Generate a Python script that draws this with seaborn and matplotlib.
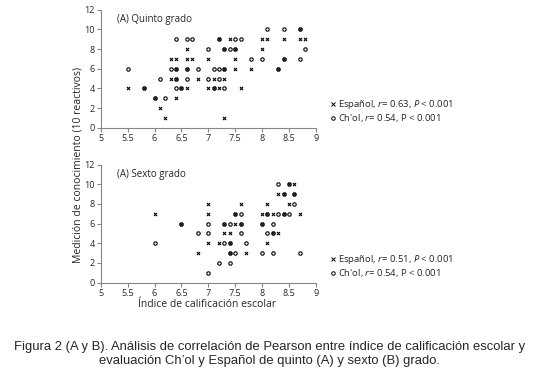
import numpy as np
import pandas as pd
import matplotlib
matplotlib.use("Agg")
import matplotlib.pyplot as plt
import seaborn as sns
from matplotlib.lines import Line2D

# Quinto grado
q_esp_x = [8.7, 7.2, 7.4, 8.0, 8.1, 8.4, 8.7, 8.8, 6.6, 7.3, 7.5, 8.0, 6.3, 6.4, 6.6, 6.7, 7.0, 7.5, 8.4,
           6.4, 6.6, 7.3, 7.5, 7.8, 8.3, 6.3, 6.4, 6.8, 7.1, 7.3, 5.5, 5.8, 6.5, 6.6, 7.0, 7.1, 7.2, 7.6,
           6.0, 6.4, 6.1, 6.2, 7.3]
q_esp_y = [10, 9, 9, 9, 9, 9, 9, 9, 8, 8, 8, 8, 7, 7, 7, 7, 7, 7, 7,
           6, 6, 6, 6, 6, 6, 5, 5, 5, 5, 5, 4, 4, 4, 4, 4, 4, 4, 4,
           3, 3, 2, 1, 1]
q_chol_x = [8.1, 8.4, 8.7, 6.4, 6.6, 6.7, 7.2, 7.5, 7.6, 7.0, 7.3, 7.4, 7.5, 8.8, 7.8, 8.0, 8.4, 8.7,
            5.5, 6.3, 6.4, 6.6, 6.8, 7.1, 7.2, 7.3, 8.3, 6.1, 6.4, 6.6, 7.0, 7.2,
            5.8, 6.4, 6.5, 7.1, 7.3, 6.0, 6.2]
q_chol_y = [10, 10, 10, 9, 9, 9, 9, 9, 9, 8, 8, 8, 8, 8, 7, 7, 7, 7,
            6, 6, 6, 6, 6, 6, 6, 6, 6, 5, 5, 5, 5, 5,
            4, 4, 4, 4, 4, 3, 3]

# Sexto grado
s_esp_x = [8.5, 8.6, 8.3, 8.4, 8.6, 7.0, 7.6, 8.1, 8.5, 6.0, 7.0, 7.5, 8.0, 8.1, 8.2, 8.4, 8.7,
           6.5, 7.3, 7.5, 7.6, 8.0, 7.3, 7.4, 8.2, 8.3, 7.0, 7.2, 7.4, 8.1, 6.8, 7.4, 7.7]
s_esp_y = [10, 10, 9, 9, 9, 8, 8, 8, 8, 7, 7, 7, 7, 7, 7, 7, 7,
           6, 6, 6, 6, 6, 5, 5, 5, 5, 4, 4, 4, 4, 3, 3, 3]
s_chol_x = [8.3, 8.5, 8.4, 8.6, 8.6, 7.5, 7.6, 8.1, 8.3, 8.4, 8.5, 6.5, 7.0, 7.3, 7.4, 7.6, 8.0, 8.2,
            6.8, 7.0, 7.6, 8.1, 8.2, 6.0, 7.3, 7.4, 7.7, 7.4, 7.5, 8.0, 8.2, 8.7, 7.2, 7.4, 7.0]
s_chol_y = [10, 10, 9, 9, 8, 7, 7, 7, 7, 7, 7, 6, 6, 6, 6, 6, 6, 6,
            5, 5, 5, 5, 5, 4, 4, 4, 4, 3, 3, 3, 3, 3, 2, 2, 1]

titles = ["(A) Quinto grado", "(A) Sexto grado"]
labels_q = [r"Español, $r$= 0.63, $P$ < 0.001", r"Ch'ol, $r$= 0.54, P < 0.001"]
labels_s = [r"Español, $r$= 0.51, $P$ < 0.001", r"Ch'ol, $r$= 0.54, P < 0.001"]

sns.set_style("white")
plt.rcParams['font.family'] = ['Open Sans', 'DejaVu Sans']
plt.rcParams['mathtext.fontset'] = 'custom'
plt.rcParams['mathtext.rm'] = 'Open Sans'
plt.rcParams['mathtext.it'] = 'Open Sans:italic'

fig = plt.figure(figsize=(5.39, 3.92), dpi=100)
ax1 = fig.add_axes([0.187, 0.674, 0.399, 0.301])
ax2 = fig.add_axes([0.187, 0.279, 0.399, 0.301])

panels = [(ax1, q_esp_x, q_esp_y, q_chol_x, q_chol_y, titles[0], labels_q),
          (ax2, s_esp_x, s_esp_y, s_chol_x, s_chol_y, titles[1], labels_s)]

for ax, ex, ey, cx, cy, title, labs in panels:
    chol = pd.DataFrame({"x": cx, "y": cy})
    esp = pd.DataFrame({"x": ex, "y": ey})
    sns.scatterplot(data=chol, x="x", y="y", ax=ax, marker="o", s=6,
                    facecolor="white", edgecolor="black", linewidth=0.8, zorder=3)
    sns.scatterplot(data=esp, x="x", y="y", ax=ax, marker="x", s=5,
                    color="black", linewidth=0.8, zorder=4)
    ax.set_xlim(5, 9)
    ax.set_ylim(0, 12)
    ax.set_xticks(np.arange(5, 9.01, 0.5))
    ax.set_xticklabels(["5", "5.5", "6", "6.5", "7", "7.5", "8", "8.5", "9"])
    ax.set_yticks(range(0, 13, 2))
    ax.set_xlabel("")
    ax.set_ylabel("")
    for side in ["top", "right"]:
        ax.spines[side].set_visible(False)
    for side in ["left", "bottom"]:
        ax.spines[side].set_color("#868686")
        ax.spines[side].set_linewidth(0.8)
    ax.tick_params(axis="both", labelsize=6.5, length=3, width=0.8, color="#868686",
                   direction="out", pad=1.5, bottom=True, left=True)
    ax.text(5.3, 11, title, fontsize=7, va="center", ha="left")
    handles = [Line2D([], [], marker="x", color="black", ls="", markersize=2.3, mew=0.7),
               Line2D([], [], marker="o", mfc="white", mec="black", ls="", markersize=2.5, mew=0.7)]
    ax.legend(handles, labs, loc="lower left", bbox_to_anchor=(1.07, 0.03), frameon=False,
              fontsize=6.8, handlelength=0.5, handletextpad=0.2, labelspacing=0.1,
              borderpad=0, borderaxespad=0)

fig.text(0.145, 0.578, "Medición de conocimiento (10 reactivos)", rotation=90,
         fontsize=7.5, ha="center", va="center")
fig.text(0.385, 0.222, "Índice de calificación escolar", fontsize=7.5, ha="center", va="center")

cap_font = ['Liberation Sans', 'DejaVu Sans']
fig.text(0.5, 0.115, "Figura 2 (A y B). Análisis de correlación de Pearson entre índice de calificación escolar y",
         fontsize=9.4, ha="center", va="center", family=cap_font)
fig.text(0.5, 0.079, "evaluación Ch’ol y Español de quinto (A) y sexto (B) grado.",
         fontsize=9.4, ha="center", va="center", family=cap_font)

fig.savefig("out.png", dpi=100)
